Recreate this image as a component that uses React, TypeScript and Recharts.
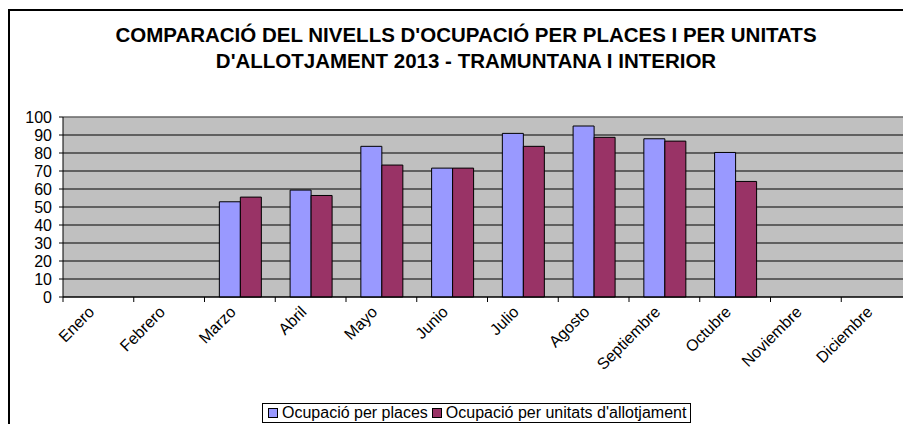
import { BarChart, Bar, XAxis, YAxis, CartesianGrid, ReferenceLine } from "recharts";

const months = [
  "Enero", "Febrero", "Marzo", "Abril", "Mayo", "Junio",
  "Julio", "Agosto", "Septiembre", "Octubre", "Noviembre", "Diciembre",
];

// null = sense dades
const places = [null, null, 52.9, 59.4, 83.7, 71.6, 90.9, 95.0, 87.9, 80.3, null, null];
const unitats = [null, null, 55.5, 56.4, 73.3, 71.6, 83.7, 88.7, 86.6, 64.2, null, null];

const seriesNames = ["Ocupació per places", "Ocupació per unitats d'allotjament"];
const seriesColors = ["#9999FF", "#993366"];
const yTicks = [0, 10, 20, 30, 40, 50, 60, 70, 80, 90, 100];

const titleLines = [
  "COMPARACIÓ DEL NIVELLS D'OCUPACIÓ PER PLACES I PER UNITATS",
  "D'ALLOTJAMENT 2013 - TRAMUNTANA I INTERIOR",
];

const FONT = '"Liberation Sans", Arial, sans-serif';

const data = months.map((m, i) => ({ month: m, places: places[i], unitats: unitats[i] }));

const MonthTick = (props: any) => {
  const { x, y, payload } = props;
  const half = payload?.offset ?? 35.4;
  return (
    <g>
      <line x1={x - half} y1={y} x2={x - half} y2={y + 5} stroke="#000" />
      <text
        x={0}
        y={0}
        transform={`translate(${x - 3},${y + 16}) rotate(-45)`}
        textAnchor="end"
        fontSize={16}
        fontFamily={FONT}
        fill="#000"
      >
        {payload.value}
      </text>
    </g>
  );
};

const App = () => {
  return (
    <div style={{ width: 903, height: 416, overflow: "hidden", position: "relative", fontFamily: FONT }}>
      <div
        style={{
          position: "absolute",
          top: 1,
          left: 0,
          width: 1000,
          height: 1000,
          borderTop: "2px solid #000",
          borderLeft: "2px solid #000",
        }}
      />
      <div
        style={{
          position: "absolute",
          top: 14,
          left: 0,
          width: 916,
          textAlign: "center",
          fontWeight: "bold",
          fontSize: 20.5,
          lineHeight: "26px",
          color: "#000",
        }}
      >
        {titleLines.map((t) => (
          <div key={t}>{t}</div>
        ))}
      </div>
      <div style={{ position: "absolute", top: 0, left: 0 }}>
        <BarChart
          width={930}
          height={420}
          data={data}
          margin={{ top: 109, right: 26, left: 15, bottom: 71 }}
          barCategoryGap="21%"
          barGap={0}
        >
          <CartesianGrid vertical={false} stroke="#000" fill="#C0C0C0" />
          <XAxis
            dataKey="month"
            interval={0}
            height={60}
            tickLine={false}
            tickSize={0}
            tickMargin={0}
            axisLine={{ stroke: "#000" }}
            tick={<MonthTick />}
          />
          <YAxis
            width={40}
            domain={[0, 100]}
            ticks={yTicks}
            interval={0}
            tickSize={4}
            tickMargin={7}
            axisLine={{ stroke: "#000" }}
            tickLine={{ stroke: "#000" }}
            tick={{ fill: "#000", fontSize: 16, fontFamily: FONT }}
          />
          <ReferenceLine y={100} stroke="#9a9a9a" />
          <Bar dataKey="places" name={seriesNames[0]} fill={seriesColors[0]} stroke="#000" isAnimationActive={false} />
          <Bar dataKey="unitats" name={seriesNames[1]} fill={seriesColors[1]} stroke="#000" isAnimationActive={false} />
        </BarChart>
      </div>
      <div
        style={{
          position: "absolute",
          top: 395,
          left: 254,
          border: "1px solid #000",
          background: "#fff",
          padding: "0 4px 0 5px",
          height: 18,
          display: "flex",
          alignItems: "center",
          fontSize: 16,
          whiteSpace: "nowrap",
        }}
      >
        {seriesNames.map((n, i) => (
          <span key={n} style={{ display: "flex", alignItems: "center", marginRight: i === 0 ? 4 : 0 }}>
            <span
              style={{
                display: "inline-block",
                width: 8,
                height: 8,
                background: seriesColors[i],
                border: "1px solid #000",
                marginRight: 4,
              }}
            />
            {n}
          </span>
        ))}
      </div>
    </div>
  );
};

export default App;
